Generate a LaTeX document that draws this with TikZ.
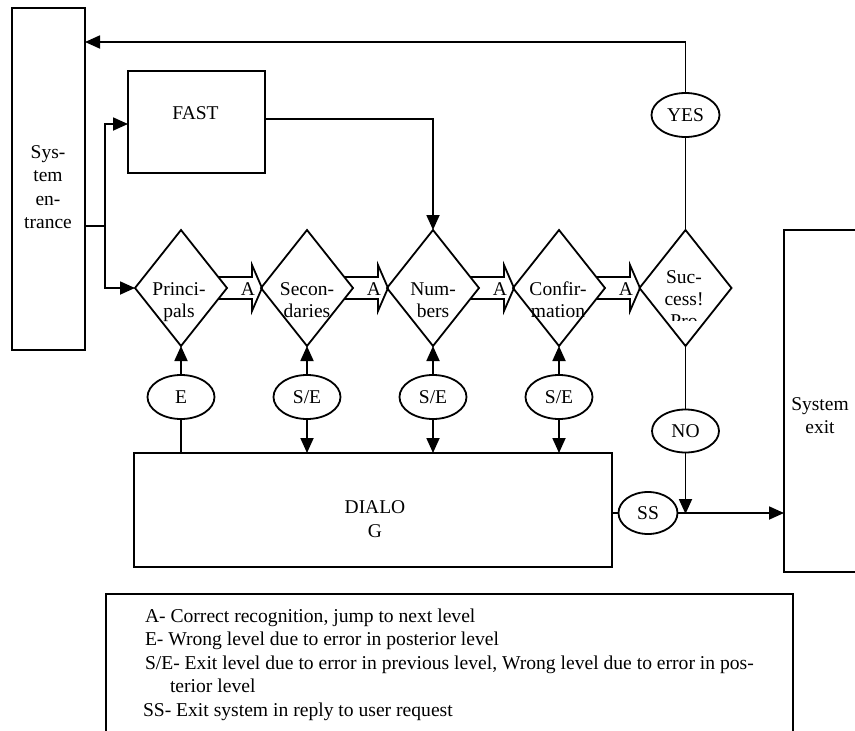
\documentclass[tikz,border=0pt]{standalone}
\usepackage{fontspec}
\setmainfont{Liberation Serif}
\usetikzlibrary{shapes.geometric,arrows.meta}
\begin{document}
\begin{tikzpicture}[x=1pt,y=-1pt,
  every node/.style={inner sep=0pt, outer sep=0pt},
  ln/.style={line width=1.8pt},
  arr/.style={ln, -{Triangle[length=15pt,width=13pt]}},
  box/.style={draw, ln, rectangle},
  dmd/.style={draw, ln, diamond, minimum width=92pt, minimum height=116pt},
  ell/.style={draw, ln, ellipse, minimum width=67pt, minimum height=44pt, font=\fontsize{19.5}{22}\selectfont},
  txt/.style={anchor=base, font=\fontsize{19.5}{22}\selectfont},
  lgd/.style={anchor=base west, font=\fontsize{19.6}{24}\selectfont},
  blk/.style={ln, line join=miter}
]
\useasboundingbox (0,0) rectangle (855,731);
\clip (0,0) rectangle (855,731);

% boxes
\node[box, minimum width=73pt, minimum height=342pt] (entr) at (48.5,179) {};
\node[box, minimum width=137pt, minimum height=102pt] (fast) at (196.5,122) {};
\node[box, minimum width=478pt, minimum height=114pt] (dialog) at (373,510) {};
\node[box, minimum width=120pt, minimum height=342pt] (exit) at (844,401) {};
\node[box, minimum width=687pt, minimum height=200pt] (leg) at (449.5,694) {};

% box texts
\node[txt] (te1) at (48,158) {Sys-};
\node[txt] (te2) at (48,181.5) {tem};
\node[txt] (te3) at (48,205) {en-};
\node[txt] (te4) at (48,228.5) {trance};
\node[txt] (tx1) at (820,410.5) {System};
\node[txt] (tx2) at (820,433.5) {exit};
\node[txt] (tf) at (195.5,119) {FAST};
\node[txt] (td1) at (375,513) {DIALO};
\node[txt] (td2) at (375,537) {G};

% diamonds
\node[dmd] (d1) at (181,288) {};
\node[dmd] (d2) at (307,288) {};
\node[dmd] (d3) at (433,288) {};
\node[dmd] (d4) at (559,288) {};
\node[dmd] (d5) at (685.5,288) {};

\node[txt] (p1) at (179,295) {Princi-};
\node[txt] (p2) at (179,317) {pals};
\node[txt] (s1) at (307,295) {Secon-};
\node[txt] (s2) at (307,317) {daries};
\node[txt] (n1) at (433,295) {Num-};
\node[txt] (n2) at (433,317) {bers};
\node[txt] (c1) at (558,295) {Confir-};
\node[txt] (c2) at (558,317) {mation};
\begin{scope}
  \clip (630,250) rectangle (740,320);
  \node[txt] (u1) at (684,283) {Suc-};
  \node[txt] (u2) at (684,305) {cess!};
  \node[txt] (u3) at (684,327) {Pro};
\end{scope}

% block arrows
\foreach \c in {181,307,433,559} {
  \draw[blk] ({\c+37.3},277) -- ({\c+71},277) -- ({\c+71},265) -- ({\c+81},288)
     -- ({\c+71},311) -- ({\c+71},299) -- ({\c+37.3},299);
  \node[txt] (lbl\c) at ({\c+67},295) {A};
}

% ellipses
\node[ell] (e1) at (181,397) {E};
\node[ell] (e2) at (307,397) {S/E};
\node[ell] (e3) at (433,397) {S/E};
\node[ell] (e4) at (559,397) {S/E};
\node[ell, minimum width=68pt] (yes) at (685.5,115) {YES};
\node[ell, minimum height=43pt] (no) at (685.5,431) {NO};
\node[ell, minimum width=59pt, minimum height=42pt] (ss) at (648,513) {SS};

% coordinates
\coordinate (j) at (105,226);
\coordinate (fa) at (0,124);
\coordinate (fy) at (0,119);
\coordinate (top) at (0,42);
\coordinate (jn) at (685.5,514);

% connectors
\draw[ln] (entr.east |- j) -- (j);
\draw[arr] (j) |- (fast.west |- fa);
\draw[arr] (j) |- (d1.west);
\draw[arr] (fast.east |- fy) -| (d3.north);
\draw[ln] (d5.north) -- (yes.south);
\draw[arr] (yes.north) |- (entr.east |- top);
\draw[ln] (d5.south) -- (no.north);
\draw[arr] (no.south) -- (jn);
\draw[ln] (dialog.east |- ss) -- (ss.west);
\draw[arr] (ss.east) -- (exit.west |- ss);

\draw[arr] (e1.north) -- (d1.south);
\draw[ln] (e1.south) -- (e1.south |- dialog.north);
\foreach \i in {2,3,4} {
  \draw[arr] (e\i.north) -- (d\i.south);
  \draw[arr] (e\i.south) -- (e\i.south |- dialog.north);
}

% legend
\node[lgd] (l1) at (145,622) {A- Correct recognition, jump to next level};
\node[lgd] (l2) at (145,645.5) {E- Wrong level due to error in posterior level};
\node[lgd] (l3) at (145,669) {S/E- Exit level due to error in previous level, Wrong level due to error in pos-};
\node[lgd] (l4) at (170,692.5) {terior level};
\node[lgd] (l5) at (143,716) {SS- Exit system in reply to user request};
\end{tikzpicture}
\end{document}
